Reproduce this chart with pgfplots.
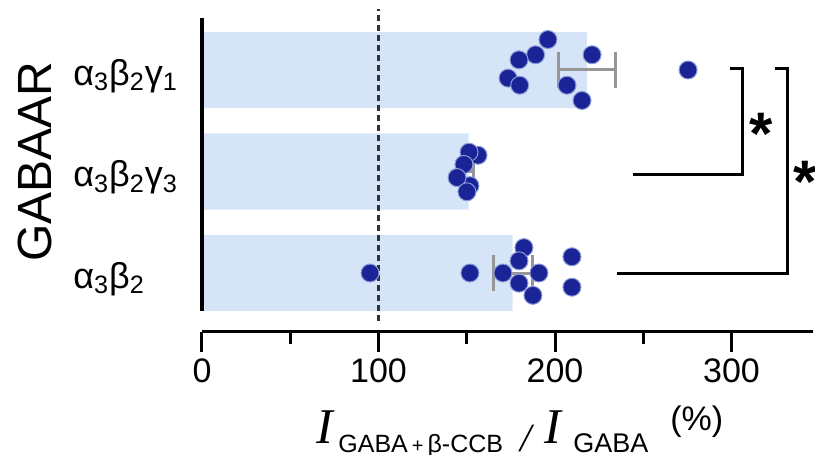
\documentclass[border=0pt]{standalone}
\usepackage{fontspec}
\setmainfont{Liberation Sans}
\newfontfamily\seriffont{Liberation Serif}
\usepackage{pgfplots}
\pgfplotsset{compat=1.18}
\definecolor{barblue}{RGB}{214,228,247}
\definecolor{dotblue}{RGB}{26,36,150}
\definecolor{dotedge}{RGB}{140,155,215}
\definecolor{errgray}{RGB}{150,150,150}
\newcommand{\bigI}{{\seriffont\itshape\fontsize{25}{26}\selectfont I}}
\begin{document}
\begin{tikzpicture}
\begin{axis}[
  anchor=origin, at={(0pt,0pt)},
  x=0.8825pt, y=50.75pt,
  xmin=0, xmax=346, ymin=-0.58, ymax=2.6,
  axis x line*=bottom, axis y line*=left,
  y axis line style={draw=none},
  x axis line style={line width=1.5pt},
  xtick={0,100,200,300},
  minor xtick={50,150,250},
  tick align=outside,
  major tick length=10pt, minor tick length=6pt,
  tick style={line width=1.5pt, black},
  ytick={0,1,2},
  yticklabels={α\textsubscript{3}β\textsubscript{2}, α\textsubscript{3}β\textsubscript{2}γ\textsubscript{3}, α\textsubscript{3}β\textsubscript{2}γ\textsubscript{1}},
  ytick style={draw=none},
  yticklabel style={anchor=west, inner sep=0pt, xshift=-54.5pt, yshift=-3pt, font=\fontsize{18}{18}\selectfont},
  xticklabel style={font=\fontsize{17}{17}\selectfont},
  /pgf/number format/assume math mode=true,
  clip=false,
]
% bars
\addplot[xbar, bar width=0.75, fill=barblue, draw=none, forget plot]
  coordinates {(176,0) (151,1) (218,2)};
% error bars (SEM)
\addplot[draw=none, mark=none, forget plot,
  error bars/.cd, x dir=both, x explicit,
  error bar style={line width=1.5pt, color=errgray},
  error mark options={line width=1.5pt, mark size=9pt, color=errgray, rotate=90}]
  coordinates {(218,2) +- (16,0) (151,1) +- (3,0) (176,0) +- (11,0)};
% individual cells
\addplot[only marks, mark=*, mark size=4.5pt,
  mark options={fill=dotblue, draw=dotedge, line width=0.5pt}]
  coordinates {
  (196,2.30) (189,2.15) (179.6,2.10) (173.4,1.92) (180,1.85)
  (221,2.15) (206.8,1.85) (215.3,1.70) (275.4,2.0)
  (151.8,0.86) (156.4,1.16) (151.3,1.19) (148.4,1.07) (144.5,0.94) (150.1,0.80)
  (95.2,0) (151.8,0) (170.5,0) (182.4,0.25) (179.6,0.12) (190.9,0)
  (179.6,-0.10) (187.5,-0.22) (209.6,0.16) (209.6,-0.14)
  };
% reference line at 100 %
\draw[dash pattern=on 3pt off 2pt, line width=1.3pt, black!80]
  (axis cs:100,-0.47) -- (axis cs:100,2.6);
% y axis line
\draw[line width=2pt] (axis cs:0,-0.375) -- (axis cs:0,2.512);
% significance brackets
\draw[line width=1.5pt] (axis cs:299,2.01) -- (axis cs:306.5,2.01) -- (axis cs:306.5,0.966) -- (axis cs:244,0.966);
\draw[line width=1.5pt] (axis cs:324.6,2.01) -- (axis cs:332,2.01) -- (axis cs:332,0) -- (axis cs:235,0);
\node[font=\bfseries\fontsize{30}{30}\selectfont, inner sep=0pt, yshift=-6.5pt] at (axis cs:317,1.5) {*};
\node[font=\bfseries\fontsize{30}{30}\selectfont, inner sep=0pt, yshift=-6.5pt] at (axis cs:342,1.03) {*};
% y label
\node[rotate=90, font=\fontsize{24}{24}\selectfont, inner sep=0pt] at (axis cs:-94.6,1.094) {GABAAR};
% x label (one text)
\node[anchor=base west, inner sep=0pt] at (axis cs:64.6,-1.675) {%
  \makebox[11pt][l]{\bigI}%
  \makebox[91pt][l]{\raisebox{-4.5pt}{\fontsize{12.5}{14}\selectfont GABA{\fontsize{10}{10}\selectfont\kern2pt+\kern2pt}β-CCB}}%
  \makebox[12pt][l]{\raisebox{-4pt}{\seriffont\itshape\fontsize{20}{20}\selectfont /}}%
  \makebox[14.5pt][l]{\bigI}%
  \makebox[48.5pt][l]{\raisebox{-4.5pt}{\fontsize{13.5}{14}\selectfont GABA}}%
  \raisebox{6.5pt}{\fontsize{17}{18}\selectfont (\%)}};
\end{axis}
\pgfresetboundingbox
\path (-101pt,-91pt) rectangle (306.5pt,136.5pt);
\end{tikzpicture}
\end{document}
